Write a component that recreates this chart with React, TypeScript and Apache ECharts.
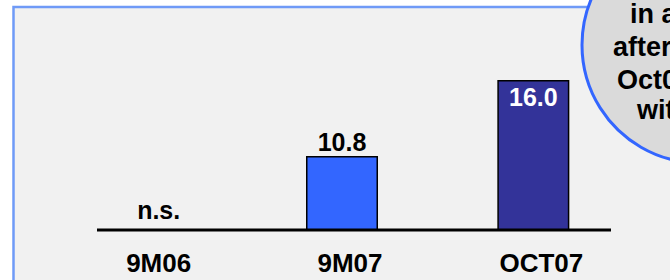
import React, { useEffect, useRef } from "react";
import * as echarts from "echarts";

const categories = ["9M06", "9M07", "OCT07"];
const values: (number | null)[] = [null, 10.8, 16.0];
const valueLabels = ["n.s.", "10.8", "16.0"];
const barColors = ["#3366ff", "#3366ff", "#333399"];
const calloutLines = ["in a", "after", "Oct0", "wit"];

const FONT = "Liberation Sans, Arial, sans-serif";
const Y_MIN = 5.74;
const Y_MAX = 16;

export default function App() {
  const ref = useRef<HTMLDivElement>(null);
  useEffect(() => {
    if (!ref.current) return;
    const chart = echarts.init(ref.current, null, { renderer: "svg" });

    const data = values.map((v, i) => {
      if (v === null) {
        return {
          value: Y_MIN,
          itemStyle: { color: "transparent", borderWidth: 0 },
          label: {
            show: true,
            position: "top",
            distance: 8,
            offset: [8, 0],
            formatter: valueLabels[i],
            color: "#000",
          },
        };
      }
      const inside = i === 2;
      return {
        value: v,
        itemStyle: { color: barColors[i], borderColor: "#000", borderWidth: 1.5 },
        label: {
          show: true,
          position: inside ? "insideTop" : "top",
          distance: inside ? 4 : 2,
          formatter: valueLabels[i],
          color: inside ? "#fff" : "#000",
        },
      };
    });

    const calloutX = [630, 613, 617, 637];
    const calloutY = [14, 47, 80, 110];

    chart.setOption({
      animation: false,
      backgroundColor: "#ffffff",
      grid: { left: 55, right: 41, top: 80, bottom: 50, containLabel: false },
      xAxis: {
        type: "category",
        data: categories,
        axisLine: { show: false },
        axisTick: { show: false },
        axisLabel: {
          margin: 20,
          fontSize: 26,
          fontWeight: "bold",
          fontFamily: FONT,
          color: "#000",
          padding: [0, 0, 0, 16],
        },
      },
      yAxis: {
        type: "value",
        min: Y_MIN,
        max: Y_MAX,
        show: false,
        splitLine: { show: false },
      },
      series: [
        {
          type: "bar",
          data,
          barWidth: 72,
          z: 5,
          label: {
            fontSize: 25,
            fontWeight: "bold",
            fontFamily: FONT,
          },
        },
      ],
      graphic: [
        {
          type: "rect",
          z: -10,
          shape: { x: 13.5, y: 7, width: 720, height: 320 },
          style: { fill: "#f1f1f1", stroke: "#6f9af7", lineWidth: 2.5 },
        },
        {
          type: "line",
          z: 10,
          shape: { x1: 97, y1: 230, x2: 611, y2: 230 },
          style: { stroke: "#000", lineWidth: 3 },
        },
        {
          type: "circle",
          z: 20,
          shape: { cx: 700, cy: 45, r: 118 },
          style: { fill: "#dadada", stroke: "#3366ff", lineWidth: 3 },
        },
        ...calloutLines.map((t, i) => ({
          type: "text",
          z: 30,
          x: calloutX[i],
          y: calloutY[i],
          style: {
            text: t,
            fill: "#000",
            font: `bold 27px ${FONT}`,
            align: "left",
            verticalAlign: "middle",
          },
        })),
      ],
    });
    return () => chart.dispose();
  }, []);
  return (
    <div
      ref={ref}
      style={{ position: "absolute", left: 0, top: 0, width: 670, height: 280, background: "#fff" }}
    />
  );
}
